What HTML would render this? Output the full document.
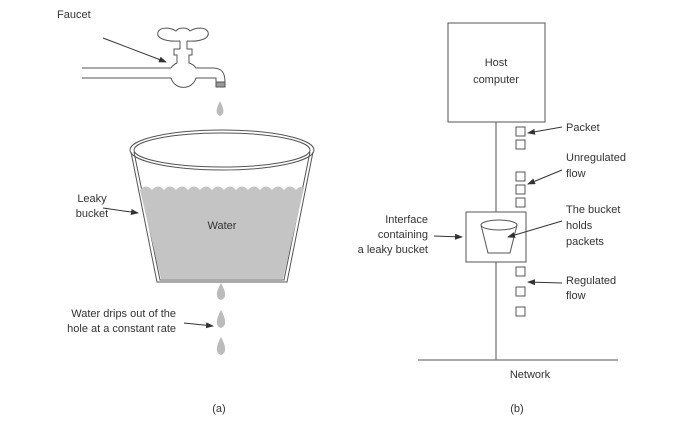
<!DOCTYPE html>
<html><head><style>
html,body{margin:0;padding:0;background:#fff;}
svg{display:block;}
text{font-family:"Liberation Sans",sans-serif;font-size:11px;fill:#333;}
</style></head><body>
<svg width="674" height="424" viewBox="0 0 674 424" xmlns="http://www.w3.org/2000/svg">
<defs>
<marker id="ah" markerWidth="8" markerHeight="6" refX="7" refY="3" orient="auto" markerUnits="userSpaceOnUse">
<path d="M0,0 L8,3 L0,6 z" fill="#333"/></marker>
</defs>
<g stroke="#555" stroke-width="1" fill="none">
<!-- faucet -->
<path d="M82,68 L171,68 M82,78 L171,78"/>
<path d="M171,68 A13,13 0 0 1 177,63 L177,55 L174,55 L174,49 L180,49 L180,41 M187,41 L187,49 L192,49 L192,55 L189,55 L189,63 A13,13 0 0 1 196,68 L213,68 C222,68 225,73 225,82 L216,82 L216,78 L196,78 A13,13 0 0 1 171,78" fill="#fff"/>
<path d="M180,41 C165,42 156,38 158,32 C160,27 170,27 176,31 C179,27 187,27 190,31 C196,27 206,27 208,32 C210,38 201,42 187,41" fill="#fff"/>
<rect x="216" y="82" width="9" height="5" fill="#999"/>
</g>
<path d="M220,101 C216,109 215,114 220,116 C225,114 224,109 220,101 z" fill="#bbb"/>
<!-- bucket -->
<path d="M134,152 L160,280 L284,280 L310,152 M131,152 L157,282 L287,282 L313,152" stroke="#555" fill="none"/>
<path d="M140,190 Q146,183 152,190 Q158,183 164,190 Q170,183 176,190 Q182,183 188,190 Q194,183 200,190 Q206,183 212,190 Q218,183 224,190 Q230,183 236,190 Q242,183 248,190 Q254,183 260,190 Q266,183 272,190 Q278,183 284,190 Q290,183 296,190 Q300,185 304,188 L283,279 L161,279 Z" fill="#c4c4c4"/>
<ellipse cx="222" cy="150" rx="92" ry="20" fill="none" stroke="#555"/>
<ellipse cx="222" cy="150" rx="88" ry="17" fill="none" stroke="#555"/>
<text x="222" y="229" text-anchor="middle">Water</text>
<path d="M221,283 C216,292 215,298 221,300 C227,298 226,292 221,283 z M221,310 C216,319 215,326 221,328 C227,326 226,319 221,310 z M221,337 C216,346 215,353 221,355 C227,353 226,346 221,337 z" fill="#bbb"/>
<text x="57" y="18">Faucet</text>
<line x1="103" y1="38" x2="166" y2="62" stroke="#333" marker-end="url(#ah)"/>
<text x="92" y="202" text-anchor="middle">Leaky</text>
<text x="92" y="217" text-anchor="middle">bucket</text>
<line x1="103" y1="208" x2="138" y2="213" stroke="#333" marker-end="url(#ah)"/>
<text x="176" y="317" text-anchor="end">Water drips out of the</text>
<text x="176" y="332" text-anchor="end">hole at a constant rate</text>
<line x1="184" y1="323" x2="213" y2="326" stroke="#333" marker-end="url(#ah)"/>
<text x="219" y="412" text-anchor="middle">(a)</text>
<!-- (b) -->
<g stroke="#555" fill="none">
<rect x="448" y="23" width="97" height="99"/>
<line x1="496" y1="122" x2="496" y2="360"/>
<line x1="418" y1="360" x2="618" y2="360"/>
<rect x="466" y="212" width="60" height="50" fill="#fff"/>
<ellipse cx="499" cy="225" rx="18" ry="5"/>
<path d="M481,225 L488,253 L510,253 L517,225"/>
<g fill="#fff">
<rect x="516" y="127" width="9" height="9"/>
<rect x="516" y="140" width="9" height="9"/>
<rect x="516" y="172" width="9" height="9"/>
<rect x="516" y="185" width="9" height="9"/>
<rect x="516" y="198" width="9" height="9"/>
<rect x="516" y="267" width="9" height="9"/>
<rect x="516" y="287" width="9" height="9"/>
<rect x="516" y="307" width="9" height="9"/>
</g>
</g>
<text x="496" y="66" text-anchor="middle">Host</text>
<text x="496" y="83" text-anchor="middle">computer</text>
<text x="566" y="131">Packet</text>
<line x1="562" y1="127" x2="528" y2="133" stroke="#333" marker-end="url(#ah)"/>
<text x="566" y="161">Unregulated</text>
<text x="566" y="177">flow</text>
<line x1="562" y1="170" x2="528" y2="184" stroke="#333" marker-end="url(#ah)"/>
<text x="566" y="213">The bucket</text>
<text x="566" y="229">holds</text>
<text x="566" y="245">packets</text>
<line x1="562" y1="221" x2="508" y2="237" stroke="#333" marker-end="url(#ah)"/>
<text x="566" y="284">Regulated</text>
<text x="566" y="299">flow</text>
<line x1="562" y1="283" x2="528" y2="282" stroke="#333" marker-end="url(#ah)"/>
<text x="428" y="223" text-anchor="end">Interface</text>
<text x="428" y="238" text-anchor="end">containing</text>
<text x="428" y="253" text-anchor="end">a leaky bucket</text>
<line x1="434" y1="236" x2="462" y2="237" stroke="#333" marker-end="url(#ah)"/>
<text x="530" y="378" text-anchor="middle">Network</text>
<text x="517" y="412" text-anchor="middle">(b)</text>
</svg>
</body></html>
